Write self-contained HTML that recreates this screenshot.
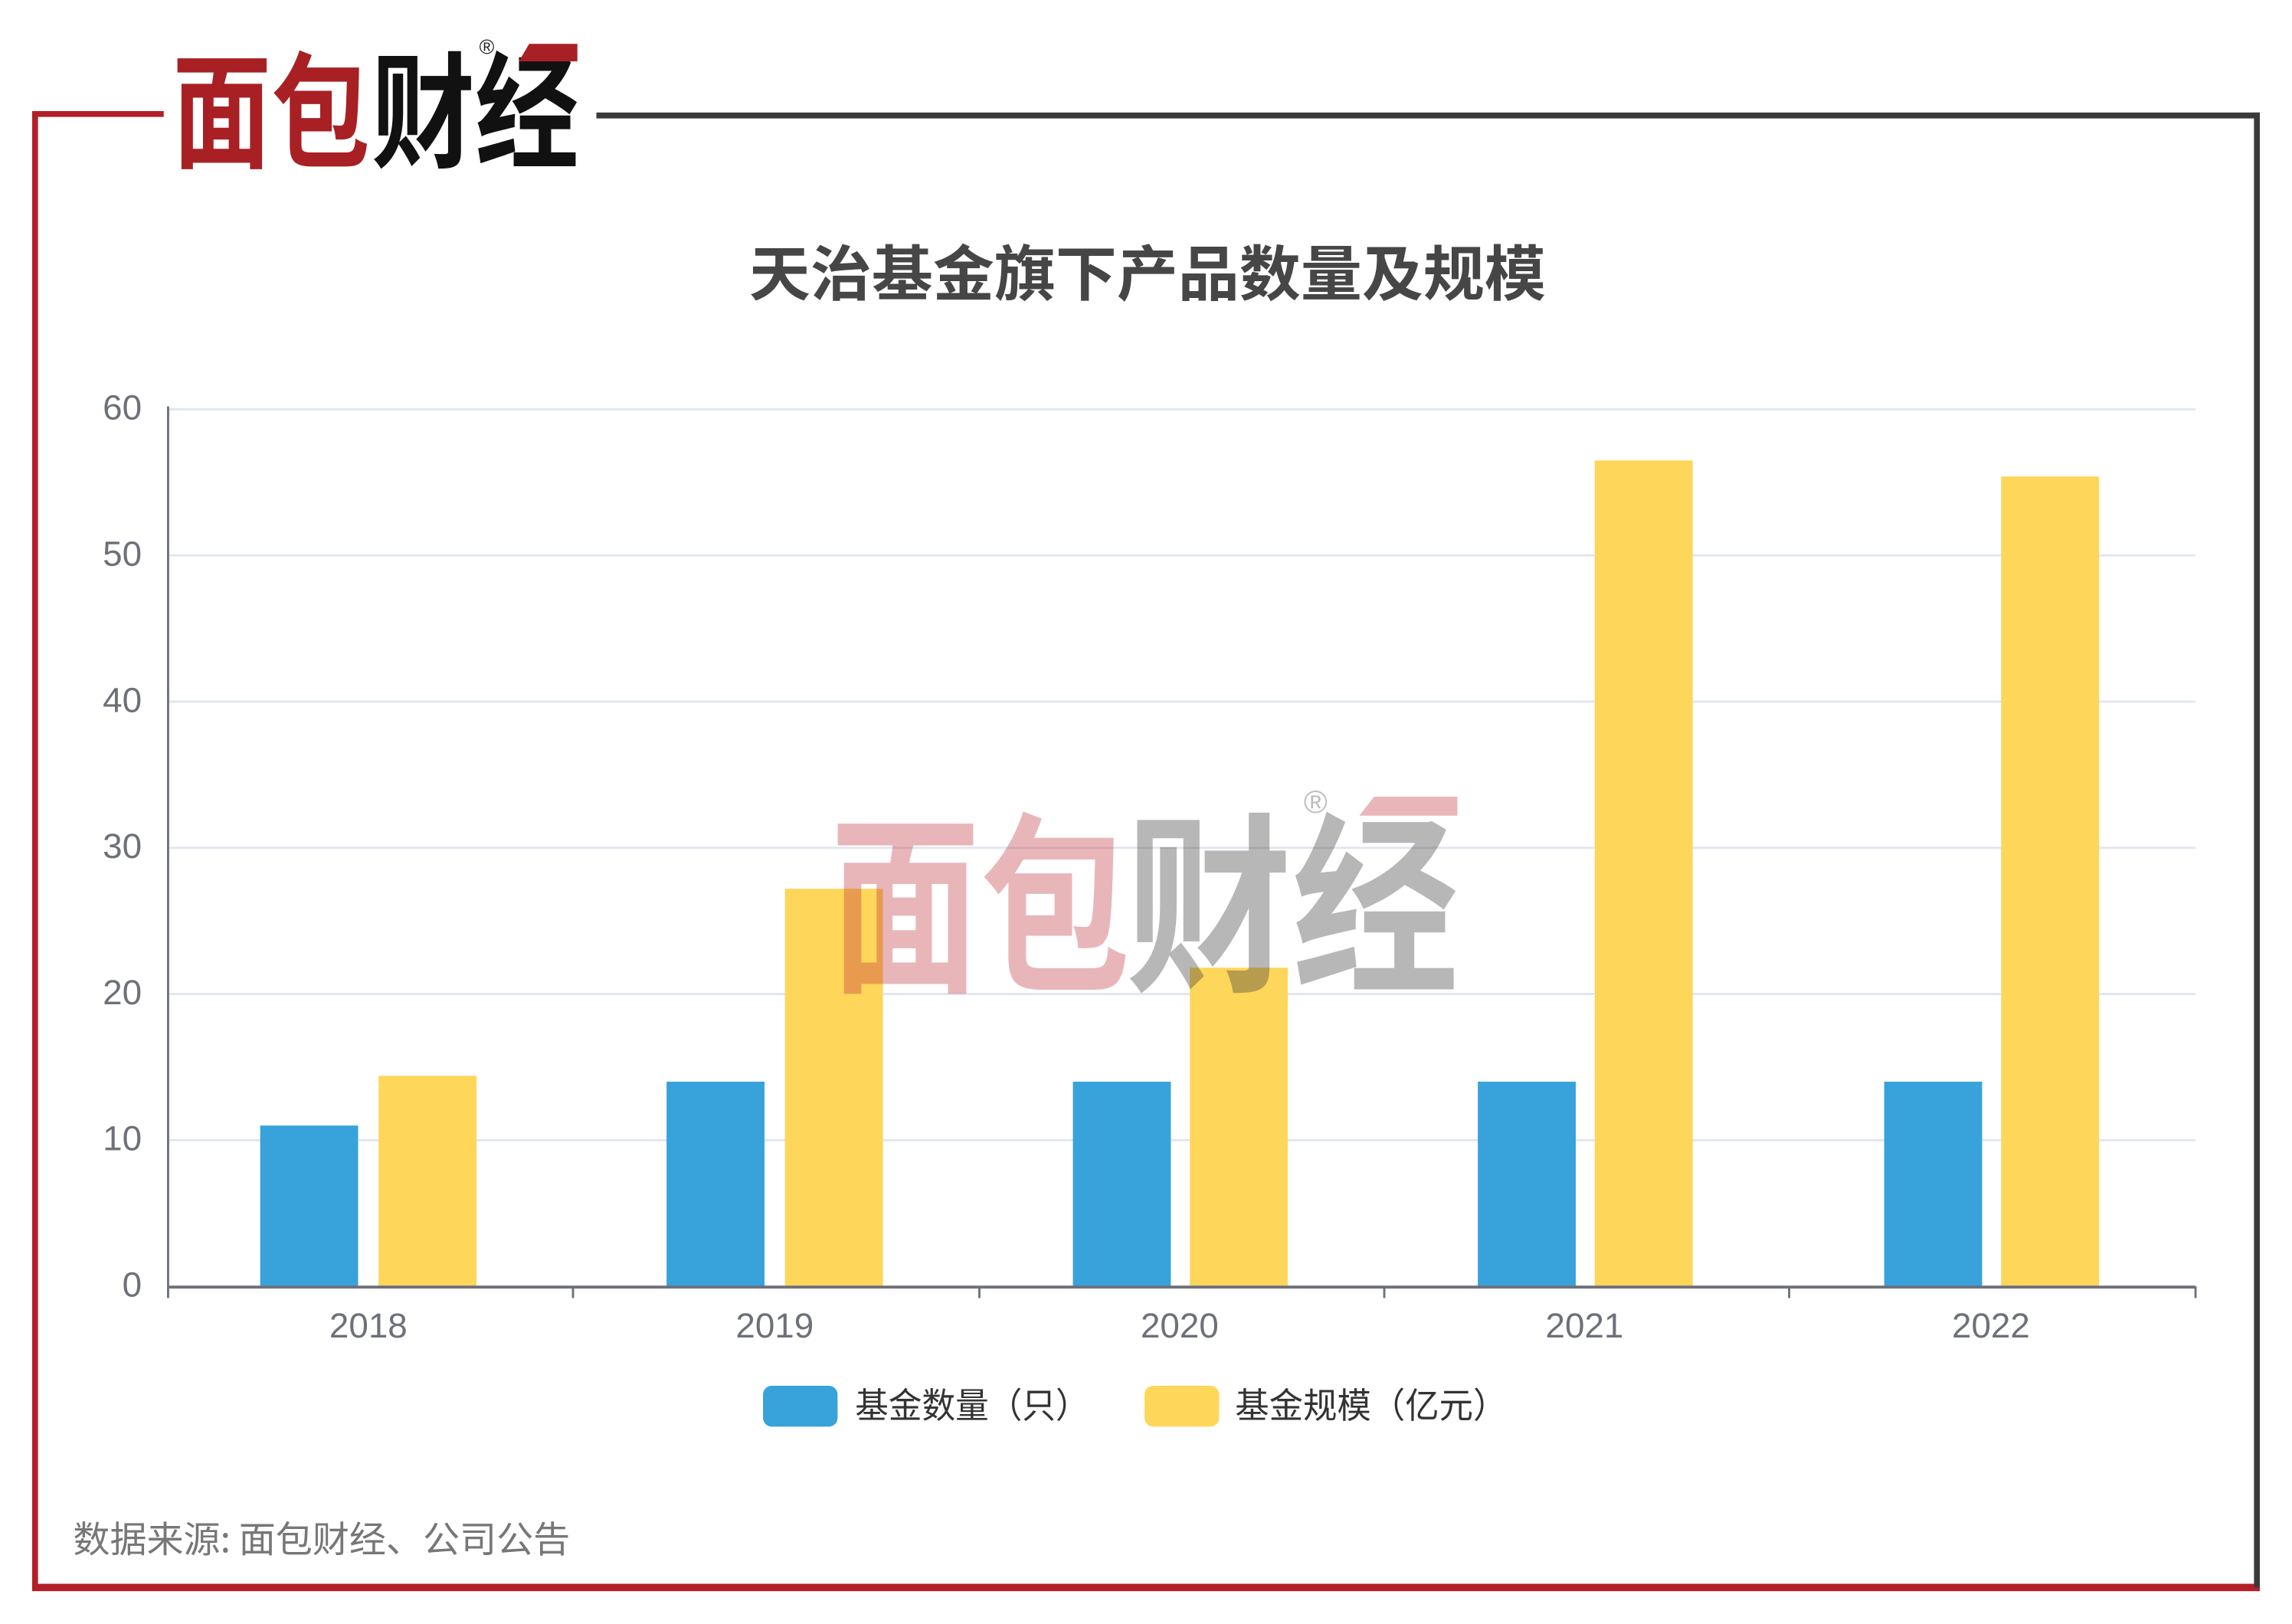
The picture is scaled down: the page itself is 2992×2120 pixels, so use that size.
<!DOCTYPE html>
<html><head><meta charset="utf-8"><style>html,body{margin:0;padding:0;background:#fff}svg{display:block}</style></head>
<body>
<svg width="2992" height="2120" viewBox="0 0 1568 1111" preserveAspectRatio="none" xmlns="http://www.w3.org/2000/svg" font-family="Liberation Sans, Noto Sans CJK SC, sans-serif">
<rect width="1568" height="1111" fill="#fff"/>
<!-- frame -->
<line x1="22" y1="78" x2="112" y2="78" stroke="#b41e28" stroke-width="4"/>
<line x1="24" y1="76" x2="24" y2="1088" stroke="#b41e28" stroke-width="4"/>
<line x1="22" y1="1086" x2="1546" y2="1086" stroke="#b41e28" stroke-width="5"/>
<line x1="408" y1="79" x2="1546" y2="79" stroke="#3a3a3a" stroke-width="4"/>
<line x1="1544" y1="77" x2="1544" y2="1086" stroke="#3a3a3a" stroke-width="4"/>
<!-- logo -->
<text x="118" y="108" font-size="86" font-weight="bold" fill="#a82024" textLength="135" lengthAdjust="spacingAndGlyphs" font-family="Noto Sans CJK SC, sans-serif">面包</text>
<text x="254" y="108" font-size="86" font-weight="bold" fill="#111" textLength="142" lengthAdjust="spacingAndGlyphs" font-family="Noto Sans CJK SC, sans-serif">财经</text>
<polygon points="355,42 395,42 395,30 362,30" fill="#a82024"/>
<text x="333" y="37" font-size="14" fill="#222" text-anchor="middle">®</text>
<!-- title -->
<text x="785" y="202" font-size="41" font-weight="bold" fill="#464646" text-anchor="middle" textLength="545" lengthAdjust="spacingAndGlyphs" font-family="Noto Sans CJK SC, sans-serif">天治基金旗下产品数量及规模</text>
<!-- grid -->
<g stroke="#e0e6f1" stroke-width="1.5">
<line x1="115" y1="280" x2="1502" y2="280"/><line x1="115" y1="380" x2="1502" y2="380"/>
<line x1="115" y1="480" x2="1502" y2="480"/><line x1="115" y1="580" x2="1502" y2="580"/>
<line x1="115" y1="680" x2="1502" y2="680"/><line x1="115" y1="780" x2="1502" y2="780"/>
</g>
<line x1="115" y1="278" x2="115" y2="880" stroke="#6e7079" stroke-width="1.5"/>
<g font-size="24" fill="#6e7079" text-anchor="end">
<text x="97" y="287">60</text><text x="97" y="387">50</text><text x="97" y="487">40</text>
<text x="97" y="587">30</text><text x="97" y="687">20</text><text x="97" y="787">10</text><text x="97" y="887">0</text>
</g>
<!-- bars -->
<g fill="#38a2da">
<rect x="178" y="770" width="67" height="110"/><rect x="456" y="740" width="67" height="140"/>
<rect x="734" y="740" width="67" height="140"/><rect x="1011" y="740" width="67" height="140"/>
<rect x="1289" y="740" width="67" height="140"/>
</g>
<g fill="#fed65a">
<rect x="259" y="736" width="67" height="144"/><rect x="537" y="608" width="67" height="272"/>
<rect x="814" y="662" width="67" height="218"/><rect x="1091" y="315" width="67" height="565"/>
<rect x="1369" y="326" width="67" height="554"/>
</g>
<!-- watermark -->
<g opacity="0.35">
<text x="568" y="668" font-size="132" font-weight="bold" fill="#c0303a" textLength="205" lengthAdjust="spacingAndGlyphs" font-family="Noto Sans CJK SC, sans-serif">面包</text>
<text x="770" y="668" font-size="132" font-weight="bold" fill="#333" textLength="228" lengthAdjust="spacingAndGlyphs" font-family="Noto Sans CJK SC, sans-serif">财经</text>
<polygon points="930,558 997,558 997,545 940,545" fill="#c0303a"/>
<text x="900" y="556" font-size="22" fill="#444" text-anchor="middle">®</text>
</g>
<!-- x axis -->
<line x1="115" y1="880.5" x2="1502" y2="880.5" stroke="#6e7079" stroke-width="2"/>
<g stroke="#6e7079" stroke-width="1.5">
<line x1="115" y1="880" x2="115" y2="888"/><line x1="392" y1="880" x2="392" y2="888"/>
<line x1="670" y1="880" x2="670" y2="888"/><line x1="947" y1="880" x2="947" y2="888"/>
<line x1="1224" y1="880" x2="1224" y2="888"/><line x1="1502" y1="880" x2="1502" y2="888"/>
</g>
<g font-size="24" fill="#6e7079" text-anchor="middle">
<text x="252" y="915">2018</text><text x="530" y="915">2019</text><text x="807" y="915">2020</text>
<text x="1084" y="915">2021</text><text x="1362" y="915">2022</text>
</g>
<!-- legend -->
<rect x="522" y="948" width="51" height="28" rx="6" fill="#38a2da"/>
<text x="585" y="970" font-size="24" fill="#333" textLength="160" lengthAdjust="spacingAndGlyphs" font-family="Noto Sans CJK SC, sans-serif">基金数量（只）</text>
<rect x="783" y="948" width="51" height="28" rx="6" fill="#fed65a"/>
<text x="845" y="970" font-size="24" fill="#333" textLength="186" lengthAdjust="spacingAndGlyphs" font-family="Noto Sans CJK SC, sans-serif">基金规模（亿元）</text>
<!-- footer -->
<text x="50" y="1062" font-size="25" fill="#777" textLength="340" lengthAdjust="spacingAndGlyphs" font-family="Noto Sans CJK SC, sans-serif">数据来源: 面包财经、公司公告</text>
</svg>
</body></html>
